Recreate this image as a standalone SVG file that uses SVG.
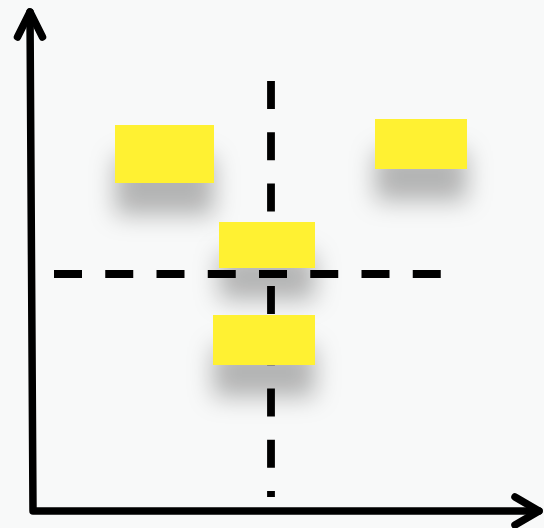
<svg xmlns="http://www.w3.org/2000/svg" width="544" height="528" viewBox="0 0 544 528">
  <style>
    .axis { fill: none; stroke: #000; stroke-width: 7.5; stroke-linecap: round; stroke-linejoin: round; }
    .guide { fill: none; stroke: #000; stroke-width: 7.8; stroke-dasharray: 28 23.25; }
    .note { fill: #fff133; filter: url(#shadow); }
  </style>
  <defs>
    <filter id="shadow" x="-60%" y="-60%" width="220%" height="300%">
      <feGaussianBlur in="SourceAlpha" stdDeviation="12"/>
      <feOffset dx="0" dy="32" result="b"/>
      <feFlood flood-color="#000" flood-opacity="0.28"/>
      <feComposite in2="b" operator="in"/>
      <feMerge>
        <feMergeNode/>
        <feMergeNode in="SourceGraphic"/>
      </feMerge>
    </filter>
  </defs>
  <rect width="544" height="528" fill="#f8f9f9"/>
  <g id="connectors">
    <g id="axes">
      <path class="axis" d="M30 12 L33 511 L539 511" stroke-linecap="butt"/>
      <polyline class="axis" points="17.5,37 30,12 42.5,37"/>
      <polyline class="axis" points="515,497 539,511 515,525"/>
    </g>
    <line class="guide" x1="271" y1="81" x2="271" y2="497"/>
    <line class="guide" x1="54" y1="274" x2="442" y2="274"/>
  </g>
  <g id="node-1"><rect class="note" x="115" y="125" width="99" height="58"/></g>
  <g id="node-2"><rect class="note" x="375" y="119" width="92" height="50"/></g>
  <g id="node-3"><rect class="note" x="219" y="222" width="96" height="46"/></g>
  <g id="node-4"><rect class="note" x="213" y="315" width="102" height="50"/></g>
</svg>
